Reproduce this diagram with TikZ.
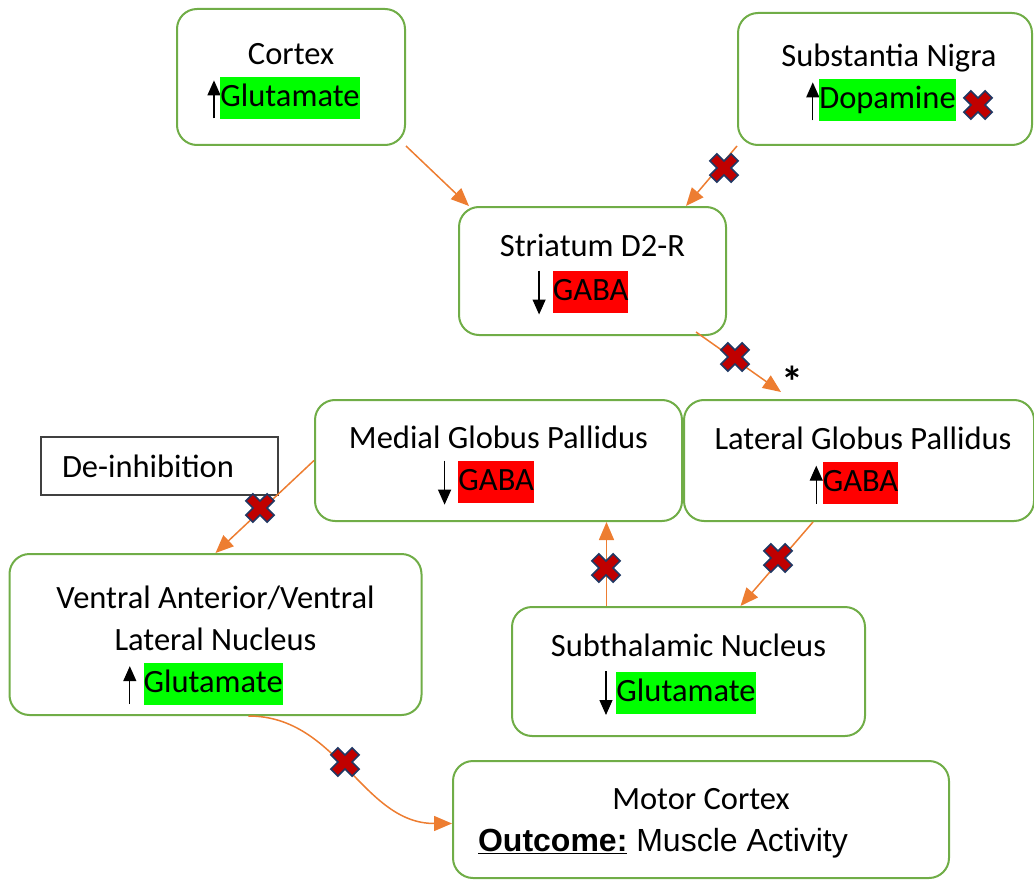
\documentclass[tikz,border=0pt]{standalone}
\usepackage{fontspec}
\setmainfont{Carlito}
\newfontfamily\arialfont{Liberation Sans}
\usepackage{xcolor}
\usetikzlibrary{positioning,arrows.meta}

\definecolor{boxgreen}{HTML}{70AD47}
\definecolor{arrorange}{HTML}{ED7D31}
\definecolor{hlgreen}{HTML}{00FF00}
\definecolor{hlred}{HTML}{FF0000}
\definecolor{xred}{HTML}{C00000}
\definecolor{xnavy}{HTML}{203864}

\newcommand{\hlg}[1]{{\setlength{\fboxsep}{0pt}\colorbox{hlgreen}{\strut#1}}}
\newcommand{\hlr}[1]{{\setlength{\fboxsep}{0pt}\colorbox{hlred}{\strut#1}}}
\newcommand{\uparr}{\tikz[baseline=0pt]\draw[black,line width=1.3pt,
  -{Triangle[length=15pt,width=13pt]}] (0,-12pt) -- (0,26pt);}
\newcommand{\downarr}{\tikz[baseline=0pt]\draw[black,line width=1.3pt,
  -{Triangle[length=15pt,width=13pt]}] (0,30pt) -- (0,-14pt);}

\begin{document}
\begin{tikzpicture}[
  x=1pt,y=-1pt,
  box/.style={draw=boxgreen,line width=2pt,rounded corners=20pt,align=center,
              font=\fontsize{32.5}{42}\selectfont,inner sep=0pt},
  arr/.style={draw=arrorange,line width=1.5pt,-{Triangle[length=18pt,width=15pt]}},
  nox/.pic={\filldraw[fill=xred,draw=xnavy,line width=1.6pt,rotate=45]
    (5,15) -- (5,5) -- (15,5) -- (15,-5) -- (5,-5) -- (5,-15) -- (-5,-15)
    -- (-5,-5) -- (-15,-5) -- (-15,5) -- (-5,5) -- (-5,15) -- cycle;}
]
\useasboundingbox (0,0) rectangle (1034,880);

\node[box,minimum width=228pt,minimum height=136pt] (cortex) at (291,77)
  {\strut Cortex\\\uparr\hlg{Glutamate}\hspace*{15pt}};
\node[box,minimum width=294pt,minimum height=132pt] (snig) at (885,79)
  {\strut\hspace*{8pt}Substantia Nigra\\\uparr\hlg{Dopamine}\hspace*{8pt}};
\node[box,minimum width=267pt,minimum height=128pt] (striatum) at (592.5,271)
  {\strut Striatum D2-R\\\downarr\ \hlr{GABA}\hspace*{24pt}};
\node[box,minimum width=367pt,minimum height=121pt] (mgp) at (498.5,460.5)
  {\rule{0pt}{33pt}Medial Globus Pallidus\\\downarr\ \hlr{GABA}\hspace*{25pt}};
\node[box,minimum width=350pt,minimum height=121pt,right=0pt of mgp] (lgp)
  {\rule{0pt}{33pt}\hspace*{8pt}Lateral Globus Pallidus\\\uparr\hlr{GABA}\hspace*{10pt}};
\node[box,minimum width=412pt,minimum height=161pt] (vavl) at (215.5,634.5)
  {\rule{0pt}{44pt}Ventral Anterior/Ventral\\Lateral Nucleus\\
   \uparr\ \hlg{Glutamate}\hspace*{25pt}};
\node[box,minimum width=353pt,minimum height=129pt] (stn) at (688.5,671.5)
  {\strut Subthalamic Nucleus\\\downarr\hspace{4pt}\hlg{Glutamate}\hspace*{22pt}};
\node[box,minimum width=496pt,minimum height=117pt] (motor) at (701,819.5)
  {\strut Motor Cortex\\{\arialfont\fontsize{32}{42}\selectfont
   \underline{\textbf{Outcome:}} Muscle Activity}\hspace*{76pt}};

\node[draw=black!75,line width=1.2pt,font=\fontsize{32.5}{42}\selectfont,
      text width=195pt,inner xsep=21pt,minimum height=58pt,align=left]
  (deinh) at (159.5,466) {De-inhibition};
\node[font=\fontsize{44}{46}\selectfont\bfseries] (star) at (792,382) {*};

% pathway
\draw[arr] (cortex.south east) -- ([xshift=11pt]striatum.north west);
\draw[arr] (snig.south west) -- ([xshift=-41pt]striatum.north east);
\draw[arr] ([xshift=-31pt,yshift=4pt]striatum.south east)
  -- ([xshift=-78pt,yshift=7pt]lgp.north);
\draw[arr] (mgp.west) -- (vavl.north);
\draw[arr] ([xshift=-82pt]stn.north) -- ([xshift=-82pt]stn.north |- mgp.south);
\draw[arr] ([xshift=-46pt]lgp.south) -- ([xshift=52pt]stn.north);
\draw[arr] ([xshift=33pt]vavl.south) to[out=0,in=180] ([yshift=-4pt]motor.west);

% blocked
\pic at (724,168) {nox};
\pic at (735,357) {nox};
\pic at (978,105) {nox};
\pic at (260,508) {nox};
\pic at (606,568) {nox};
\pic at (778,558) {nox};
\pic at (345,762) {nox};
\end{tikzpicture}
\end{document}
